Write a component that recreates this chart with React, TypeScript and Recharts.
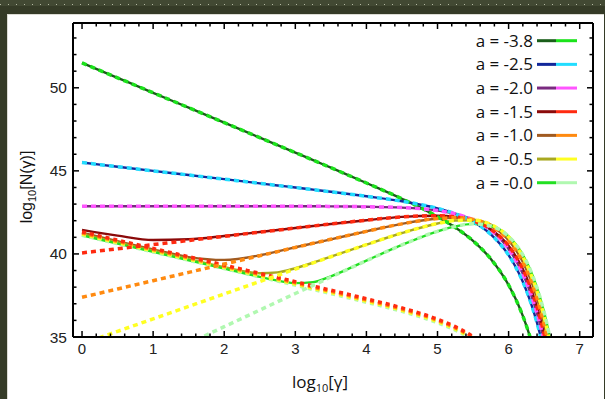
import React from 'react';
import { LineChart, Line, XAxis, YAxis } from 'recharts';

// shared x grid: log10(gamma)
const xGrid = [0, 0.5, 1, 1.5, 2, 2.5, 2.75, 3, 3.25, 3.5, 4, 4.5, 5, 5.25, 5.5, 5.75, 6, 6.1, 6.2, 6.3, 6.4, 6.5, 6.6];

// totals (solid, dark)
const totM38 = [51.5, 50.6, 49.7, 48.8, 47.9, 47.0, 46.55, 46.1, 45.65, 45.19, 44.27, 43.32, 42.24, 41.59, 40.79, 39.7, 38.13, 37.28, 36.27, 35.03, 33.52, 31.67, 29.43];
const totM25 = [45.5, 45.25, 45.0, 44.75, 44.5, 44.25, 44.12, 44.0, 43.87, 43.74, 43.47, 43.17, 42.74, 42.42, 41.94, 41.18, 39.93, 39.21, 38.33, 37.22, 35.84, 34.12, 32.0];
const totM20 = [42.87, 42.87, 42.87, 42.87, 42.87, 42.87, 42.87, 42.87, 42.87, 42.86, 42.84, 42.79, 42.61, 42.41, 42.06, 41.43, 40.3, 39.63, 38.8, 37.74, 36.41, 34.74, 32.64];
const totM15 = [41.45, 41.1, 40.84, 40.88, 41.08, 41.32, 41.44, 41.56, 41.68, 41.8, 42.03, 42.23, 42.3, 42.23, 42.0, 41.49, 40.49, 39.87, 39.09, 38.08, 36.8, 35.18, 33.13];
const totM10 = [41.28, 40.77, 40.27, 39.81, 39.64, 39.92, 40.15, 40.4, 40.64, 40.88, 41.36, 41.81, 42.13, 42.18, 42.08, 41.7, 40.82, 40.25, 39.52, 38.56, 37.33, 35.76, 33.76];
const totM05 = [41.19, 40.69, 40.19, 39.69, 39.2, 38.84, 38.89, 39.14, 39.47, 39.84, 40.56, 41.26, 41.83, 42.01, 42.03, 41.77, 41.02, 40.5, 39.82, 38.91, 37.73, 36.21, 34.26];
const totM00 = [41.12, 40.62, 40.12, 39.62, 39.12, 38.62, 38.39, 38.24, 38.3, 38.65, 39.6, 40.54, 41.36, 41.66, 41.81, 41.68, 41.05, 40.58, 39.95, 39.09, 37.96, 36.49, 34.59];

// injection components (dashed, bright)
const injM15 = [40.06, 40.31, 40.56, 40.81, 41.06, 41.31, 41.43, 41.56, 41.68, 41.8, 42.03, 42.23, 42.3, 42.23, 42.0, 41.49, 40.49, 39.87, 39.09, 38.08, 36.8, 35.18, 33.13];
const injM10 = [37.39, 37.89, 38.39, 38.89, 39.39, 39.89, 40.14, 40.39, 40.64, 40.88, 41.36, 41.81, 42.13, 42.18, 42.08, 41.7, 40.82, 40.25, 39.52, 38.56, 37.33, 35.76, 33.76];
const injM05 = [34.59, 35.34, 36.09, 36.84, 37.59, 38.34, 38.71, 39.09, 39.46, 39.83, 40.56, 41.26, 41.83, 42.01, 42.03, 41.77, 41.02, 40.5, 39.82, 38.91, 37.73, 36.21, 34.26];
const injM00 = [31.62, 32.62, 33.62, 34.62, 35.62, 36.62, 37.12, 37.62, 38.11, 38.61, 39.59, 40.54, 41.36, 41.66, 41.81, 41.68, 41.05, 40.58, 39.95, 39.09, 37.96, 36.49, 34.59];

// cooling components (dashed, bright)
const coolM15 = [41.33, 40.83, 40.33, 39.83, 39.33, 38.83, 38.58, 38.33, 38.07, 37.82, 37.3, 36.75, 36.07, 35.62, 35.02, 34.14, 32.76];
const coolM10 = [41.26, 40.76, 40.26, 39.76, 39.26, 38.76, 38.51, 38.26, 38.0, 37.75, 37.23, 36.68, 36.0, 35.55, 34.95, 34.07, 32.69];
const coolM05 = [41.19, 40.69, 40.19, 39.69, 39.19, 38.69, 38.44, 38.19, 37.93, 37.68, 37.16, 36.61, 35.93, 35.48, 34.88, 34.0, 32.62];
const coolM00 = [41.12, 40.62, 40.12, 39.62, 39.12, 38.62, 38.37, 38.12, 37.86, 37.61, 37.09, 36.54, 35.86, 35.41, 34.81, 33.93, 32.55];

const legendLabels = ['a = -3.8', 'a = -2.5', 'a = -2.0', 'a = -1.5', 'a = -1.0', 'a = -0.5', 'a = -0.0'];
const darkColors = ['#1a5e1a', '#12289a', '#7a2a80', '#8b0a0a', '#a05a20', '#a8a820', '#22e022'];
const brightColors = ['#1be31b', '#22ddff', '#ff55ff', '#ff2a10', '#ff8a10', '#ffff22', '#b0f8b0'];

const xTicks = [0, 0.2, 0.4, 0.6, 0.8, 1, 1.2, 1.4, 1.6, 1.8, 2, 2.2, 2.4, 2.6, 2.8, 3, 3.2, 3.4, 3.6, 3.8, 4, 4.2, 4.4, 4.6, 4.8, 5, 5.2, 5.4, 5.6, 5.8, 6, 6.2, 6.4, 6.6, 6.8, 7];
const yTicks = [35, 36, 37, 38, 39, 40, 41, 42, 43, 44, 45, 46, 47, 48, 49, 50, 51, 52, 53];
const xMajor = [0, 1, 2, 3, 4, 5, 6, 7];
const yMajor = [35, 40, 45, 50];

const xDomain = [-0.127, 7.187];
const yDomain = [35, 53.9];

const toData = (ys: number[]) => ys.map((y, i) => ({ x: xGrid[i], y }));

const totals = [totM38, totM25, totM20, totM15, totM10, totM05, totM00];
const components: { ys: number[]; idx: number; cool?: boolean }[] = [
  { ys: coolM00, idx: 6, cool: true },
  { ys: coolM05, idx: 5, cool: true },
  { ys: coolM10, idx: 4, cool: true },
  { ys: coolM15, idx: 3, cool: true },
  { ys: totM38, idx: 0 },
  { ys: totM25, idx: 1 },
  { ys: totM20, idx: 2 },
  { ys: injM15, idx: 3 },
  { ys: injM10, idx: 4 },
  { ys: injM05, idx: 5 },
  { ys: injM00, idx: 6 },
];

const isIn = (arr: number[], v: number) => arr.some((m) => Math.abs(m - v) < 1e-6);
const tickFont = '"Liberation Sans", Arial, sans-serif';

const BottomTick = (p: any) => {
  const { x, y, payload } = p;
  const major = isIn(xMajor, payload.value);
  return (
    <g>
      <line x1={x} x2={x} y1={y} y2={y - (major ? 6 : 3.5)} stroke="#000" strokeWidth={1.5} />
      {major && (
        <text x={x} y={y + 17} textAnchor="middle" fontSize={15} fontFamily={tickFont} fill="#222">
          {payload.value}
        </text>
      )}
    </g>
  );
};
const TopTick = (p: any) => {
  const { x, y, payload } = p;
  const major = isIn(xMajor, payload.value);
  return <line x1={x} x2={x} y1={y} y2={y + (major ? 6 : 3.5)} stroke="#000" strokeWidth={1.5} />;
};
const LeftTick = (p: any) => {
  const { x, y, payload } = p;
  const major = isIn(yMajor, payload.value);
  return (
    <g>
      <line x1={x} x2={x + (major ? 6 : 3.5)} y1={y} y2={y} stroke="#000" strokeWidth={1.5} />
      {major && (
        <text x={x - 6} y={y + 5.5} textAnchor="end" fontSize={15.5} fontFamily={tickFont} fill="#222">
          {payload.value}
        </text>
      )}
    </g>
  );
};
const RightTick = (p: any) => {
  const { x, y, payload } = p;
  const major = isIn(yMajor, payload.value);
  return <line x1={x} x2={x - (major ? 6 : 3.5)} y1={y} y2={y} stroke="#000" strokeWidth={1.5} />;
};

export default function App() {
  const axisLine = { stroke: '#000', strokeWidth: 2 };
  return (
    <div style={{ position: 'fixed', left: 0, top: 0, width: 605, height: 399, background: '#353b27', overflow: 'hidden' }}>
      <div style={{ position: 'absolute', left: 0, top: 0, width: 605, height: 6, background: '#424933' }} />
      <div
        style={{
          position: 'absolute', left: 0, top: 4, width: 605, height: 1,
          background: 'repeating-linear-gradient(90deg, #b5baa4 0px, #b5baa4 1px, transparent 1px, transparent 8px)',
        }}
      />
      <div style={{ position: 'absolute', left: 7, top: 14, width: 596, height: 385, background: '#ffffff', borderTop: '1px solid #dcdcd4', borderLeft: '1px solid #dcdcd4' }} />
      <div style={{ position: 'absolute', left: 0, top: 0 }}>
        <LineChart width={605} height={399} margin={{ top: 22, right: 11, bottom: 61, left: 72 }}>
          <XAxis
            dataKey="x" type="number" domain={xDomain} allowDataOverflow ticks={xTicks} interval={0}
            height={1} tickSize={0} tickMargin={0} tickLine={false} axisLine={axisLine} tick={(p: any) => <BottomTick {...p} />}
          />
          <XAxis
            xAxisId="top" orientation="top" dataKey="x" type="number" domain={xDomain} allowDataOverflow ticks={xTicks} interval={0}
            height={1} tickSize={0} tickMargin={0} tickLine={false} axisLine={axisLine} tick={(p: any) => <TopTick {...p} />}
          />
          <YAxis
            type="number" domain={yDomain} allowDataOverflow ticks={yTicks} interval={0}
            width={1} tickSize={0} tickMargin={0} tickLine={false} axisLine={axisLine} tick={(p: any) => <LeftTick {...p} />}
          />
          <YAxis
            yAxisId="right" orientation="right" type="number" domain={yDomain} allowDataOverflow ticks={yTicks} interval={0}
            width={1} tickSize={0} tickMargin={0} tickLine={false} axisLine={axisLine} tick={(p: any) => <RightTick {...p} />}
          />
          {totals.map((ys, i) => (
            <Line
              key={'t' + i} data={toData(ys)} dataKey="y" type="monotone" stroke={darkColors[i]} strokeWidth={2.4}
              dot={false} activeDot={false} isAnimationActive={false}
            />
          ))}
          {components.map((c, i) => (
            <Line
              key={'c' + i} data={toData(c.ys)} dataKey="y" type="monotone" stroke={brightColors[c.idx]}
              strokeWidth={3.5} strokeDasharray={c.cool ? '4 4' : '5 4'}
              dot={false} activeDot={false} isAnimationActive={false}
            />
          ))}
        </LineChart>
      </div>
      <svg width={605} height={399} style={{ position: 'absolute', left: 0, top: 0, pointerEvents: 'none' }}>
        <text x={32} y={187} transform="rotate(-90, 32, 187)" textAnchor="middle" fontSize={16} fontFamily={tickFont} fill="#111">
          log<tspan fontSize={11} dy={4}>10</tspan>
          <tspan dy={-4}>[N(γ)]</tspan>
        </text>
        <text x={320} y={388} textAnchor="middle" fontSize={17} fontFamily='"Open Sans", sans-serif' fill="#111">
          log<tspan fontSize={11} dy={4}>10</tspan>
          <tspan dy={-4}>[γ]</tspan>
        </text>
        {legendLabels.map((lab, i) => {
          const cy = 40.7 + i * 23.67;
          return (
            <g key={lab}>
              <text x={533} y={cy + 6} textAnchor="end" fontSize={17} fontFamily='"Open Sans", sans-serif' fill="#111">
                {lab}
              </text>
              <line x1={537} x2={556} y1={cy} y2={cy} stroke={darkColors[i]} strokeWidth={3} />
              <line x1={556} x2={577} y1={cy} y2={cy} stroke={brightColors[i]} strokeWidth={3} />
            </g>
          );
        })}
      </svg>
    </div>
  );
}
